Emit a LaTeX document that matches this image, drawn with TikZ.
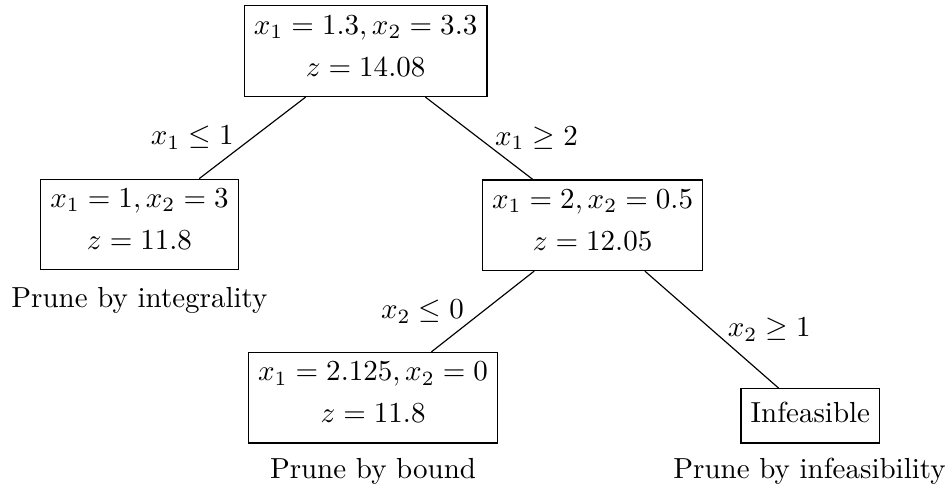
\documentclass[tikz,border=0pt]{standalone}
\usepackage{amsmath}
\usepackage{amssymb}
\usetikzlibrary{positioning}

\begin{document}
\begin{tikzpicture}[x=1.0cm,y=1.0cm,
  bbnode/.style={draw, align=center, execute at begin node=\strut, execute at end node=\strut}]
  \useasboundingbox (0,0) rectangle (11.50,-5.95);
  \node[bbnode] (root) at (4.43,-0.62) {$x_1 = 1.3, x_2 = 3.3$\\[2.5pt]$z = 14.08$};
  \node[bbnode] (lft) at (1.69,-2.72) {$x_1 = 1, x_2 = 3$\\[2.5pt]$z = 11.8$};
  \node[bbnode] (rgt) at (7.18,-2.73) {$x_1 = 2, x_2 = 0.5$\\[2.5pt]$z = 12.05$};
  \node[bbnode] (bnd) at (4.52,-4.82) {$x_1 = 2.125, x_2 = 0$\\[2.5pt]$z = 11.8$};
  \node[bbnode] (inf) at (9.82,-5.04) {Infeasible};
  \node (lftnote) at (1.69,-3.64) {Prune by integrality};
  \node (bndnote) at (4.52,-5.71) {Prune by bound};
  \node (infnote) at (9.81,-5.71) {Prune by infeasibility};
  \draw (root) -- node[left=3pt] {$x_1 \leq 1$} (lft);
  \draw (root) -- node[right=2pt] {$x_1 \geq 2$} (rgt);
  \draw (rgt) -- node[left=3pt] {$x_2 \leq 0$} (bnd);
  \draw (rgt) -- node[right=2pt] {$x_2 \geq 1$} (inf);
\end{tikzpicture}
\end{document}
